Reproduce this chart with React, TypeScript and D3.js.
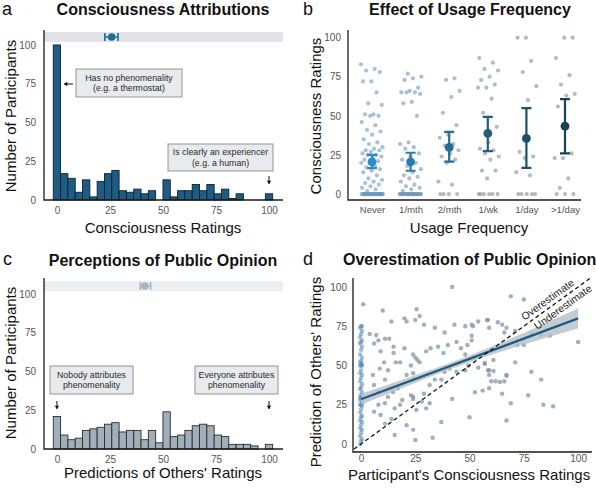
import React, { useEffect, useRef } from 'react';
import * as d3 from 'd3';

const FONT = "'Liberation Sans', Arial, Helvetica, sans-serif";

// histogram counts, 30 bins spanning 0..100
const attributionBins = [100, 17, 14, 5, 13, 2, 12, 17, 19, 6, 5, 7, 4, 6, 0, 13, 2, 6, 6, 10, 6, 10, 4, 7, 1, 4, 0, 0, 0, 4];
const opinionBins = [21, 9, 6, 7, 12, 13, 14, 16, 17, 11, 12, 12, 6, 12, 4, 24, 8, 9, 12, 15, 16, 15, 9, 8, 3, 3, 3, 2, 0, 3];

// mean and CI shown in the strip on top of each histogram: [mean, low, high]
const attributionSummary = [25.8, 22.6, 28.8];
const opinionSummary = [41.5, 39.3, 44.2];

const frequencyLevels = ['Never', '1/mth', '2/mth', '1/wk', '1/day', '>1/day'];
const ratingsByFrequency = [
  [83, 80, 79, 78, 72, 72, 65, 58, 57, 51, 51, 50, 50, 46, 44, 41, 40, 38, 35, 33, 32, 30, 29, 28, 28, 27, 26, 25, 25, 24,
    23, 22, 21, 20, 20, 18, 17, 16, 15, 14, 12, 10, 9, 8, 7, 6, 5, 4, 3, 2,
    0, 0, 0, 0, 0, 0, 0, 0, 0, 0, 0, 0, 0, 0, 0, 0, 0, 0, 0, 0, 0, 0, 0, 0, 0, 0, 0, 0, 0, 0],
  [77, 75, 74, 73, 68, 66, 65, 65, 65, 64, 59, 58, 50, 33, 32, 30, 29, 26, 24, 22, 20, 18, 16, 14, 12, 11, 10, 8, 6, 5, 4, 3, 2,
    0, 0, 0, 0, 0, 0, 0, 0, 0, 0, 0, 0, 0, 0, 0, 0, 0, 0, 0, 0, 0, 0, 0, 0, 0],
  [74, 73, 66, 62, 52, 44, 38, 36, 32, 31, 28, 26, 24, 22, 20, 8, 6, 0, 0, 0, 0],
  [87, 84, 80, 79, 75, 73, 70, 68, 68, 61, 52, 43, 33, 29, 28, 26, 24, 22, 15, 15, 10, 0, 0, 0, 0, 0, 0],
  [100, 100, 85, 78, 69, 60, 27, 24, 23, 14, 12, 0, 0, 0, 0, 0],
  [100, 100, 87, 76, 70, 64, 63, 56, 26, 23, 23, 10, 4, 0, 0, 0],
];
const meanByFrequency = [20.6, 20.6, 29.8, 38.8, 35.6, 43.4];
const ciLowByFrequency = [16.6, 14.9, 20.7, 27.5, 16.8, 26.0];
const ciHighByFrequency = [25.0, 26.4, 39.8, 49.4, 55.0, 60.7];
const meanColors = ['#2b8cc6', '#2a7cb0', '#276c96', '#215d7d', '#1d4f68', '#184255'];
const pointColors = ['#6a98c0', '#7395b2', '#7b91a4', '#818e9b', '#858c94', '#878a90'];

// panel d: predictions of participants who rated 0
const zeroRaterPredictions = [0, 2, 3, 5, 7, 9, 10, 12, 14, 15, 17, 18, 20, 22, 24, 25, 25, 26, 28, 29, 30, 30, 31, 33, 35, 36, 38,
  40, 42, 44, 45, 47, 50, 50, 50, 51, 52, 53, 55, 57, 60, 62, 64, 65, 66, 68, 70, 72, 74, 75, 75];
// panel d: [own rating, prediction of others]
const ownVsPredicted = [
  [1, 89], [42, 100], [10, 85], [25.6, 85.8], [27, 81.5], [69, 94], [75, 92], [14, 78], [20, 80], [21, 78], [25, 79],
  [29, 76], [34, 74], [38.5, 71], [43, 76], [48, 75], [51.6, 75], [54, 78], [58.5, 79], [63, 77.5], [65, 76], [67, 74],
  [66, 71], [71, 72], [78.5, 70], [83, 69.4], [100, 65], [4, 70], [7, 69.4], [6, 64], [8, 66], [11, 67], [13, 67],
  [9, 59], [10.6, 52], [16, 52], [18, 52], [15, 58], [15, 62], [20, 61], [24, 57], [25, 55], [26, 53.5], [27, 52],
  [23, 50], [21, 44], [24, 45], [30, 59], [32, 61], [35.5, 62], [38, 58], [40, 63], [44, 65], [46, 61], [48, 57],
  [49, 63], [52, 55], [57, 51], [61, 53.5], [54, 48.6], [58.5, 47], [61, 46.5], [59, 44], [62, 40], [66, 40],
  [67, 43.5], [71, 52], [78.5, 46], [83, 41], [77, 31], [88.5, 24], [69, 26], [67, 15], [50, 17], [52.5, 33],
  [56, 34], [59, 35.5], [42, 28.7], [37, 41], [38.5, 46], [34, 41], [31.6, 37.6], [29, 32], [28, 27], [24, 30],
  [23, 31], [24, 28.7], [19, 28], [18, 25], [15.5, 22.7], [14, 16], [11, 13], [15.5, 5.7], [21, 12], [24, 9],
  [25, 2.5], [33, 4], [37, 14], [30, 22.7], [31.6, 26], [25.5, 21.7], [8, 25], [6, 20.6], [9, 18.5], [11, 26],
  [12.4, 30], [14.7, 33], [17, 35.5], [8, 33], [6, 37.6], [5.5, 44], [8.6, 48], [12.4, 47], [11, 41], [48, 47],
  [44, 46], [40.8, 48], [49.4, 50], [58, 79], [51, 76], [59, 74], [51, 69], [51, 66], [72, 63], [75, 63], [87, 69],
  [59, 47], [67, 44], [64, 39.5], [65, 32], [84, 25], [60, 40], [57, 51.6],
];
const fitIntercept = 28.5;
const fitSlope = 0.515;
const fitX = [0, 20, 40, 60, 80, 100];
const fitHalfWidth = [3.5, 2.6, 2.0, 2.6, 4.2, 6.5];

const ratingTicks = [0, 25, 50, 75, 100];

const App: React.FC = () => {
  const svgRef = useRef<SVGSVGElement>(null);

  useEffect(() => {
    if (!svgRef.current) return;
    const svg = d3.select(svgRef.current);
    svg.selectAll('*').remove();

    const text = (x: number, y: number, s: string, size: number, opts: any = {}) =>
      svg.append('text')
        .attr('x', x).attr('y', y)
        .attr('font-family', FONT)
        .attr('font-size', size)
        .attr('font-weight', opts.bold ? 'bold' : 'normal')
        .attr('text-anchor', opts.anchor || 'middle')
        .attr('fill', opts.fill || '#111')
        .attr('transform', opts.rotate ? `rotate(-90,${x},${y})` : null)
        .text(s);

    const styleAxis = (sel: any, size = 10) => {
      sel.select('.domain').remove();
      sel.selectAll('text').attr('font-family', FONT).attr('font-size', size).attr('fill', '#555');
    };

    const axisLines = (l: number, r: number, t: number, b: number) => {
      svg.append('path')
        .attr('d', `M${l},${t}V${b}H${r}`)
        .attr('fill', 'none').attr('stroke', '#1a1a1a').attr('stroke-width', 1.3);
    };

    const noteBox = (x: number, y: number, w: number, h: number, lines: string[]) => {
      svg.append('rect').attr('x', x).attr('y', y).attr('width', w).attr('height', h)
        .attr('fill', '#e8eaed').attr('stroke', '#8c8c8c').attr('stroke-width', 0.9);
      lines.forEach((ln, i) => {
        text(x + w / 2, y + h / 2 + (i - (lines.length - 1) / 2) * 10.5 + 3, ln, 8.8, { fill: '#2a2a2a' });
      });
    };

    const arrow = (x1: number, y1: number, x2: number, y2: number) => {
      svg.append('line').attr('x1', x1).attr('y1', y1).attr('x2', x2).attr('y2', y2)
        .attr('stroke', '#111').attr('stroke-width', 1);
      const a = Math.atan2(y2 - y1, x2 - x1);
      const s = 3.2;
      const p = [
        [x2, y2],
        [x2 - s * Math.cos(a) + s * 0.7 * Math.sin(a), y2 - s * Math.sin(a) - s * 0.7 * Math.cos(a)],
        [x2 - s * Math.cos(a) - s * 0.7 * Math.sin(a), y2 - s * Math.sin(a) + s * 0.7 * Math.cos(a)],
      ];
      svg.append('path').attr('d', `M${p.map(q => q.join(',')).join('L')}Z`).attr('fill', '#111');
    };

    const histogram = (
      bins: number[], summary: number[], top: number, bottom: number,
      fill: string, stroke: string, stripFill: string, dotFill: string
    ) => {
      const left = 44, right = 283;
      const x = d3.scaleLinear().domain([-6.1, 106.6]).range([left, right]);
      const y = d3.scaleLinear().domain([0, (bottom - top) / 1.55]).range([bottom, top]);
      const bw = 100 / (bins.length - 1);

      svg.append('rect')
        .attr('x', left).attr('width', right - left)
        .attr('y', y(108.4)).attr('height', y(101.9) - y(108.4))
        .attr('fill', stripFill);
      const sy = y(105.2);
      svg.append('path')
        .attr('d', `M${x(summary[1])},${sy}H${x(summary[2])}M${x(summary[1])},${sy - 4}V${sy + 4}M${x(summary[2])},${sy - 4}V${sy + 4}`)
        .attr('stroke', dotFill).attr('stroke-width', 1.6).attr('fill', 'none');
      svg.append('circle').attr('cx', x(summary[0])).attr('cy', sy).attr('r', 3.8).attr('fill', dotFill);

      svg.append('g').selectAll('rect')
        .data(bins)
        .enter().append('rect')
        .attr('x', (_, i) => x(i * bw - bw / 2))
        .attr('width', x(bw) - x(0))
        .attr('y', d => y(d))
        .attr('height', d => y(0) - y(d))
        .attr('fill', fill)
        .attr('stroke', stroke)
        .attr('stroke-width', 0.9);

      svg.append('g').attr('transform', `translate(${left},0)`)
        .call(d3.axisLeft(y).tickValues(ratingTicks).tickSize(0).tickPadding(8))
        .call(styleAxis);
      svg.append('g').attr('transform', `translate(0,${bottom})`)
        .call(d3.axisBottom(x).tickValues(ratingTicks).tickSize(0).tickPadding(7))
        .call(styleAxis);
      axisLines(left, right, top, bottom);
      return x;
    };

    // ---- panel a
    text(2, 15, 'a', 18, { anchor: 'start' });
    text(163, 15, 'Consciousness Attributions', 16, { bold: true });
    const xa = histogram(attributionBins, attributionSummary, 30, 200, '#1f5c83', '#0c2230', '#e1e4e8', '#1f6d95');
    text(16, 116, 'Number of Participants', 15, { rotate: true });
    text(163, 233, 'Consciousness Ratings', 15);
    noteBox(76, 69, 106, 28, ['Has no phenomenality', '(e.g. a thermostat)']);
    arrow(73, 84, 64, 84);
    noteBox(168, 144, 105, 27, ['Is clearly an experiencer', '(e.g. a human)']);
    arrow(xa(100), 176, xa(100), 184);

    // ---- panel c
    text(3, 265, 'c', 18, { anchor: 'start' });
    text(163, 266, 'Perceptions of Public Opinion', 16, { bold: true });
    const xc = histogram(opinionBins, opinionSummary, 278, 449, '#a2aeb8', '#272e35', '#eceef1', '#a5b5c2');
    text(16, 363, 'Number of Participants', 15, { rotate: true });
    text(163, 478, "Predictions of Others' Ratings", 15);
    noteBox(50, 366, 83, 28, ['Nobody attributes', 'phenomenality']);
    arrow(xc(0), 401, xc(0), 409);
    noteBox(195, 366, 83, 28, ['Everyone attributes', 'phenomenality']);
    arrow(xc(100), 401, xc(100), 409);

    // ---- panel b
    {
      const left = 348, right = 581, top = 30, bottom = 200;
      text(303, 15, 'b', 18, { anchor: 'start' });
      text(470, 15, 'Effect of Usage Frequency', 16, { bold: true });
      const x = d3.scalePoint<string>().domain(frequencyLevels).range([372, 565]);
      const y = d3.scaleLinear().domain([-3.8, 104.9]).range([bottom, top]);

      ratingsByFrequency.forEach((vals, g) => {
        const cx = x(frequencyLevels[g])!;
        svg.append('g').selectAll('circle')
          .data(vals)
          .enter().append('circle')
          .attr('cx', (_, i) => cx + (((i * 0.618034 + g * 0.37) % 1) - 0.5) * 22)
          .attr('cy', d => y(d))
          .attr('r', 2.1)
          .attr('fill', pointColors[g])
          .attr('opacity', 0.6);
      });
      frequencyLevels.forEach((lvl, g) => {
        const cx = x(lvl)!;
        const lo = y(ciLowByFrequency[g]), hi = y(ciHighByFrequency[g]);
        svg.append('path')
          .attr('d', `M${cx},${lo}V${hi}M${cx - 5},${lo}H${cx + 5}M${cx - 5},${hi}H${cx + 5}`)
          .attr('stroke', meanColors[g]).attr('stroke-width', 2.2).attr('fill', 'none');
        svg.append('circle').attr('cx', cx).attr('cy', y(meanByFrequency[g])).attr('r', 4.4)
          .attr('fill', meanColors[g]);
      });

      svg.append('g').attr('transform', `translate(${left},0)`)
        .call(d3.axisLeft(y).tickValues(ratingTicks).tickSize(0).tickPadding(7))
        .call(styleAxis);
      svg.append('g').attr('transform', `translate(0,${bottom})`)
        .call(d3.axisBottom(x).tickSize(0).tickPadding(6))
        .call((s: any) => styleAxis(s, 9.6));
      axisLines(left, right, top, bottom);
      text(320.5, 116, 'Consciousness Ratings', 15, { rotate: true });
      text(469, 233, 'Usage Frequency', 15);
    }

    // ---- panel d
    {
      const left = 353, right = 592, top = 278, bottom = 452;
      text(303, 265, 'd', 18, { anchor: 'start' });
      text(343, 265, 'Overestimation of Public Opinion', 16, { bold: true, anchor: 'start' });
      const x = d3.scaleLinear().domain([-3.7, 106.4]).range([left, right]);
      const y = d3.scaleLinear().domain([-5.1, 105.7]).range([bottom, top]);

      svg.append('g').selectAll('circle')
        .data(ownVsPredicted)
        .enter().append('circle')
        .attr('cx', d => x(d[0]))
        .attr('cy', d => y(d[1]))
        .attr('r', 2.2)
        .attr('fill', '#8494a3')
        .attr('opacity', 0.75);
      svg.append('g').selectAll('circle')
        .data(zeroRaterPredictions)
        .enter().append('circle')
        .attr('cx', (_, i) => x(0) + ((i % 3) - 1) * 0.9)
        .attr('cy', d => y(d))
        .attr('r', 2.2)
        .attr('fill', '#4f88b6')
        .attr('opacity', 0.55);

      const band = d3.area<number>()
        .x(d => x(d))
        .y0((d, i) => y(fitIntercept + fitSlope * d - fitHalfWidth[i]))
        .y1((d, i) => y(fitIntercept + fitSlope * d + fitHalfWidth[i]))
        .curve(d3.curveMonotoneX);
      svg.append('path').attr('d', band(fitX)).attr('fill', '#b4bec8').attr('opacity', 0.8);
      svg.append('line')
        .attr('x1', x(0)).attr('y1', y(fitIntercept))
        .attr('x2', x(100)).attr('y2', y(fitIntercept + fitSlope * 100))
        .attr('stroke', '#1f5b7e').attr('stroke-width', 2.2);

      svg.append('line')
        .attr('x1', x(-3.2)).attr('y1', y(-3.2))
        .attr('x2', x(105.5)).attr('y2', y(105.5))
        .attr('stroke', '#111').attr('stroke-width', 1.3).attr('stroke-dasharray', '4,3');

      const ang = Math.atan2(y(0) - y(100), x(100) - x(0)) * 180 / Math.PI;
      const label = (s: string, dx: number, off: number) => {
        const px = x(dx), py = y(dx);
        svg.append('text')
          .attr('transform', `translate(${px},${py}) rotate(${-ang}) translate(0,${off})`)
          .attr('font-family', FONT).attr('font-size', 10.5).attr('text-anchor', 'middle')
          .attr('fill', '#222').text(s);
      };
      label('Overestimate', 88, -4);
      label('Underestimate', 91, 11);

      svg.append('g').attr('transform', `translate(${left},0)`)
        .call(d3.axisLeft(y).tickValues(ratingTicks).tickSize(0).tickPadding(6))
        .call(styleAxis);
      svg.append('g').attr('transform', `translate(0,${bottom})`)
        .call(d3.axisBottom(x).tickValues(ratingTicks).tickSize(0).tickPadding(3))
        .call(styleAxis);
      axisLines(left, right, top, bottom);
      text(320.5, 372, "Prediction of Others' Ratings", 15, { rotate: true });
      text(348, 480, "Participant's Consciousness Ratings", 15, { anchor: 'start' });
    }
  }, []);

  return (
    <svg
      ref={svgRef}
      width={596}
      height={489}
      style={{ position: 'absolute', left: 0, top: 0, background: '#fff' }}
    />
  );
};

export default App;
